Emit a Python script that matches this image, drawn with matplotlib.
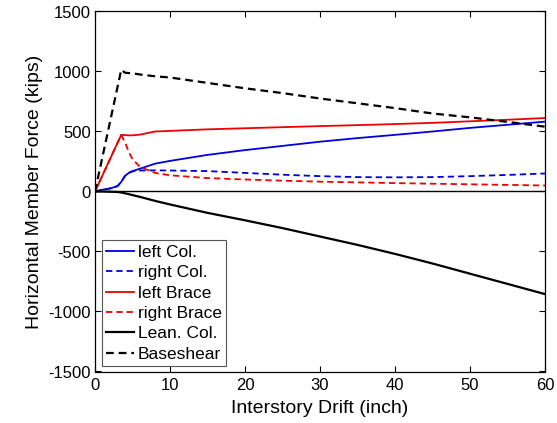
import matplotlib
matplotlib.use("Agg")
import matplotlib.pyplot as plt

plt.rcParams['font.family'] = ['Liberation Sans', 'DejaVu Sans']
plt.rcParams['axes.unicode_minus'] = False

# Interstory drift (inch) at which member forces were sampled
drift = [0, 1, 2, 3, 3.5, 4, 4.5, 5, 6, 8, 10, 15, 20, 25, 30, 35, 40, 45, 50, 55, 60]

# Horizontal member forces (kips)
left_col = [0, 15, 25, 45, 80, 130, 155, 170, 190, 232, 255, 305, 345, 380, 415,
            445, 472, 500, 530, 556, 582]
right_col = [0, 15, 25, 45, 80, 130, 155, 168, 175, 176, 175, 170, 155, 140, 128,
             120, 118, 120, 128, 138, 150]
left_brace = [0, 135, 270, 405, 472, 470, 468, 468, 474, 500, 505, 518, 527, 536, 545,
              553, 562, 572, 585, 598, 612]
right_brace = [0, 135, 270, 405, 470, 410, 330, 270, 205, 155, 135, 112, 100, 90, 82,
               76, 70, 65, 60, 55, 50]
lean_col = [0, 0, -2, -4, -8, -15, -22, -30, -45, -78, -108, -178, -240, -305, -375,
            -445, -520, -600, -685, -770, -855]
base_shear = [0, 290, 580, 870, 1015, 990, 987, 985, 975, 960, 950, 905, 860, 820, 775,
              735, 695, 650, 618, 580, 540]

x_ticks = [0, 10, 20, 30, 40, 50, 60]
y_ticks = [-1500, -1000, -500, 0, 500, 1000, 1500]

fig = plt.figure(figsize=(5.57, 4.23), dpi=100)
ax = fig.add_axes([95 / 557, 1 - 371.5 / 423, 450 / 557, 360 / 423])

dash = (3.5, 2.2)
lw = 1.3
ax.plot(drift, left_col, color='#0000dd', lw=lw, label='left Col.')
ax.plot(drift, right_col, color='#0000dd', lw=lw, dashes=dash, label='right Col.')
ax.plot(drift, left_brace, color='#ee0000', lw=lw, label='left Brace')
ax.plot(drift, right_brace, color='#ee0000', lw=lw, dashes=dash, label='right Brace')
ax.plot(drift, lean_col, color='black', lw=1.6, label='Lean. Col.')
ax.plot(drift, base_shear, color='black', lw=1.6, dashes=dash, label='Baseshear')

# zero reference line
ax.axhline(0, color='black', lw=1.0, zorder=1)

ax.set_xlim(0, 60)
ax.set_ylim(-1500, 1500)
ax.set_xticks(x_ticks)
ax.set_yticks(y_ticks)
ax.tick_params(direction='in', top=True, right=True, length=4, width=0.8,
               labelsize=12)
ax.tick_params(axis='x', pad=5)
ax.tick_params(axis='y', pad=3)
for s in ax.spines.values():
    s.set_linewidth(0.9)

ax.set_xlabel('Interstory Drift (inch)', fontsize=14, labelpad=5)
ax.set_ylabel('Horizontal Member Force (kips)', fontsize=14, labelpad=4)

leg = ax.legend(loc='lower left', bbox_to_anchor=(0.0156, 0.015), borderaxespad=0,
                fontsize=12.5, handlelength=1.6, handletextpad=0.2, labelspacing=0.3,
                borderpad=0.25, fancybox=False, framealpha=1)
leg.get_frame().set_edgecolor('#555555')
leg.get_frame().set_linewidth(0.8)

fig.savefig('out.png', dpi=100)
